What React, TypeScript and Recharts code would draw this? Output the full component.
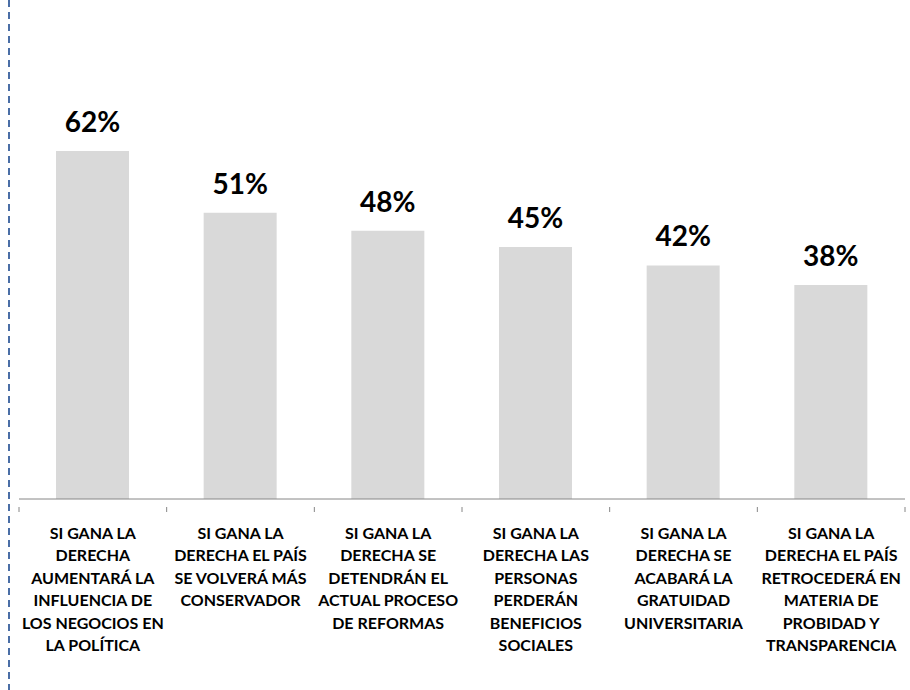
import React from 'react';
import { BarChart, Bar, XAxis, YAxis, LabelList } from 'recharts';

const categories = [
  'SI GANA LA\nDERECHA\nAUMENTARÁ LA\nINFLUENCIA DE\nLOS NEGOCIOS EN\nLA POLÍTICA',
  'SI GANA LA\nDERECHA EL PAÍS\nSE VOLVERÁ MÁS\nCONSERVADOR',
  'SI GANA LA\nDERECHA SE\nDETENDRÁN EL\nACTUAL PROCESO\nDE REFORMAS',
  'SI GANA LA\nDERECHA LAS\nPERSONAS\nPERDERÁN\nBENEFICIOS\nSOCIALES',
  'SI GANA LA\nDERECHA SE\nACABARÁ LA\nGRATUIDAD\nUNIVERSITARIA',
  'SI GANA LA\nDERECHA EL PAÍS\nRETROCEDERÁ EN\nMATERIA DE\nPROBIDAD Y\nTRANSPARENCIA',
];
// shown rounded in the labels
const values = [62, 51, 47.8, 44.9, 41.6, 38.1];

const data = categories.map((name, i) => ({ name, value: values[i] }));

const W = 910;
const H = 690;
const LEFT = 19;
const RIGHT = 5;
const BAND = (W - LEFT - RIGHT) / categories.length;
const FONT = 'Lato, "Open Sans", sans-serif';

const CategoryTick = (props: any) => {
  const { x, y, payload, index } = props;
  const lines: string[] = String(payload.value).split('\n');
  const left = x - BAND / 2;
  return (
    <g>
      <line x1={left} y1={y} x2={left} y2={y + 5} stroke="#868686" strokeWidth={1} />
      {index === categories.length - 1 && (
        <line x1={x + BAND / 2} y1={y} x2={x + BAND / 2} y2={y + 5} stroke="#868686" strokeWidth={1} />
      )}
      <text x={x} y={y + 32} textAnchor="middle" fontFamily={FONT} fontWeight={700} fontSize={16} fill="#000">
        {lines.map((l, i) => (
          <tspan key={i} x={x} dy={i === 0 ? 0 : 22.4}>
            {l}
          </tspan>
        ))}
      </text>
    </g>
  );
};

export default function App() {
  return (
    <div style={{ position: 'absolute', left: 0, top: 0, width: W, height: H, background: '#fff' }}>
      <svg width={20} height={H} style={{ position: 'absolute', left: 0, top: 0 }}>
        <line x1={9} y1={0} x2={9} y2={H} stroke="#4a6ea6" strokeWidth={2} strokeDasharray="7 5" />
      </svg>
      <BarChart
        width={W}
        height={H}
        data={data}
        margin={{ top: 106, right: RIGHT, bottom: 6, left: LEFT }}
        style={{ position: 'absolute', left: 0, top: 0 }}
      >
        <XAxis
          dataKey="name"
          interval={0}
          height={185}
          axisLine={{ stroke: '#868686', strokeWidth: 1 }}
          tickLine={false}
          tick={<CategoryTick />}
        />
        <YAxis hide domain={[0, 70]} />
        <Bar dataKey="value" fill="#d9d9d9" barSize={73} isAnimationActive={false}>
          <LabelList
            dataKey="value"
            position="top"
            offset={19}
            formatter={(v: any) => `${Math.round(v)}%`}
            style={{ fontFamily: FONT, fontWeight: 700, fontSize: 28, fill: '#000' }}
          />
        </Bar>
      </BarChart>
    </div>
  );
}
